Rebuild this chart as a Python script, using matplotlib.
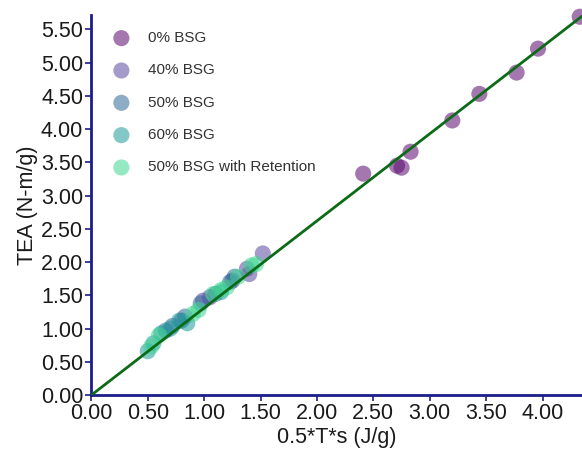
import numpy as np
import matplotlib
matplotlib.use("Agg")
import matplotlib.pyplot as plt

plt.rcParams['font.family'] = ['Liberation Sans', 'DejaVu Sans']

# Datos
labels = ['0% BSG', '40% BSG', '50% BSG', '60% BSG', '50% BSG with Retention']
colors = ['#5a0a6e', '#5a4aa0', '#2f6a98', '#1f9a9a', '#3ed690']

x_0 = [2.41, 2.71, 2.75, 2.83, 3.20, 3.44, 3.77, 3.96, 4.33]
y_0 = [3.33, 3.45, 3.42, 3.66, 4.13, 4.53, 4.85, 5.21, 5.69]

x_40 = [1.52, 1.38, 1.40, 1.25, 1.05, 0.99]
y_40 = [2.13, 1.90, 1.82, 1.72, 1.47, 1.42]

x_50 = [1.27, 1.23, 1.10, 0.97, 0.83, 0.80, 0.72, 0.66]
y_50 = [1.78, 1.70, 1.52, 1.38, 1.18, 1.12, 1.04, 0.97]

x_60 = [0.85, 0.70, 0.62, 0.50, 0.55, 0.78, 1.15]
y_60 = [1.08, 1.00, 0.93, 0.66, 0.78, 1.12, 1.55]

x_ret = [1.46, 1.20, 1.15, 1.08, 0.95, 0.90, 0.60, 0.53, 1.30, 1.42]
y_ret = [1.97, 1.62, 1.58, 1.52, 1.28, 1.22, 0.90, 0.73, 1.78, 1.95]

slope = 1.31

x_ticks = np.arange(0, 4.01, 0.5)
y_ticks = np.arange(0, 5.51, 0.5)

fig = plt.figure(figsize=(5.82, 4.61), dpi=100)
ax = fig.add_axes([0.157, 0.143, 0.843, 0.825])

series = [(x_0, y_0), (x_40, y_40), (x_50, y_50), (x_60, y_60), (x_ret, y_ret)]
for (xs, ys), lab, c in zip(series, labels, colors):
    ax.scatter(xs, ys, s=135, color=c, alpha=0.55, edgecolors='none', label=lab,
               zorder=2, clip_on=False)

# Recta de ajuste
xl = np.array([0, 4.35])
ax.plot(xl, slope * xl, color='#0b6b16', lw=2, zorder=3)

ax.set_xlim(0, 4.35)
ax.set_ylim(0, 5.72)
ax.set_xticks(x_ticks)
ax.set_yticks(y_ticks)
ax.set_xticklabels([f'{v:.2f}' for v in x_ticks])
ax.set_yticklabels([f'{v:.2f}' for v in y_ticks])

navy = '#1c1c8a'
for s in ['top', 'right']:
    ax.spines[s].set_visible(False)
for s in ['left', 'bottom']:
    ax.spines[s].set_color(navy)
    ax.spines[s].set_linewidth(2)
ax.tick_params(axis='both', colors=navy, length=4, width=1.2, labelsize=15.5,
               labelcolor='#1a1a1a', pad=2)

ax.set_xlabel('0.5*T*s (J/g)', fontsize=15.5, color='#1a1a1a', labelpad=2)
ax.set_ylabel('TEA (N-m/g)', fontsize=15.5, color='#1a1a1a', labelpad=2)

leg = ax.legend(loc='upper left', bbox_to_anchor=(0.002, 0.993), frameon=False,
                fontsize=11, labelspacing=1.2, handletextpad=0.75,
                markerscale=1.0)
for t in leg.get_texts():
    t.set_color('#333333')

fig.savefig('out.png', dpi=100)
